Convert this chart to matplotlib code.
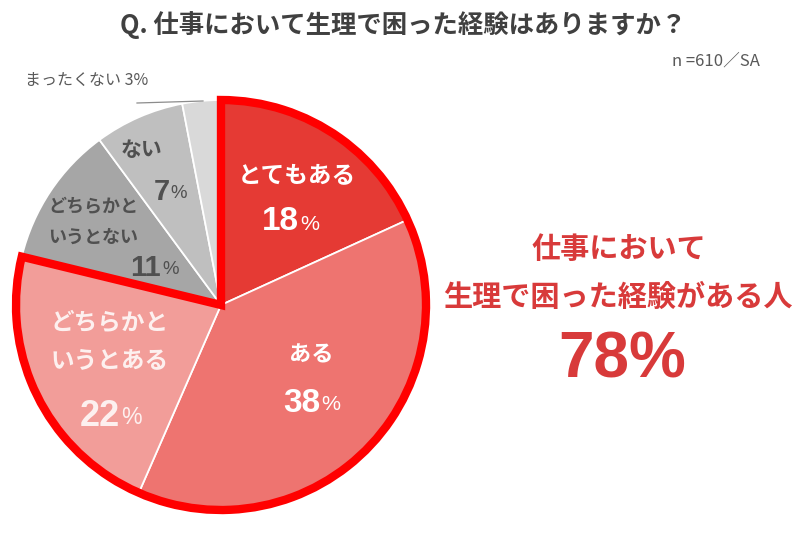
import matplotlib

matplotlib.use("Agg")
import matplotlib.pyplot as plt
from matplotlib.patches import Wedge

plt.rcParams["font.family"] = ["Noto Sans CJK JP", "DejaVu Sans"]

# data
categories = ["とてもある", "ある", "どちらかと\nいうとある", "どちらかと\nいうとない", "ない", "まったくない"]
values = [18, 38, 22, 11, 7, 3]
colors = ["#E53A34", "#EE7470", "#F29D99", "#A6A6A6", "#BFBFBF", "#D9D9D9"]
n_aware = 3  # first three slices = "ある" group
title = "Q. 仕事において生理で困った経験はありますか？"
note = "n =610／SA"
side_lines = ["仕事において", "生理で困った経験がある人"]

W, H = 800, 558
CX, CY, R = 221, 305, 205


def fy(y):
    return H - y


fig = plt.figure(figsize=(W / 100, H / 100), dpi=100)
ax = fig.add_axes([0, 0, 1, 1])

ax.pie(values, colors=colors, startangle=90, counterclock=False,
       center=(CX, fy(CY)), radius=R, frame=False,
       wedgeprops=dict(edgecolor="white", linewidth=1.3))

# thick red outline around the "ある" group
frac = sum(values[:n_aware]) / sum(values)
ax.add_patch(Wedge((CX, fy(CY)), R, 90 - frac * 360, 90, fill=False,
                   edgecolor="#FF0000", linewidth=6, joinstyle="miter", zorder=5))

ax.set_xlim(0, W)
ax.set_ylim(0, H)
ax.set_aspect("equal")
ax.axis("off")

# label name position, percent position, name size, number size, color
label_style = [
    ((297, 175), (290, 222), 17, 24, "white"),
    ((311, 355), (311, 403), 16, 24, "white"),
    ((110, 342), (110, 416), 17, 26, "#FDF0EF"),
    ((93, 222), (153, 268), 13, 21, "#505050"),
    ((142, 150), (170, 192), 15, 21, "#505050"),
]

for i, ((lx, ly), (px, pyy), fs_lab, fs_num, col) in enumerate(label_style):
    ax.text(lx, fy(ly), categories[i], ha="center", va="center", fontsize=fs_lab,
            fontweight="bold", color=col, linespacing=1.75)
    num = str(values[i])
    fs_pct = fs_num * 0.64
    w_num = len(num) * 0.556 * fs_num
    w_pct = 0.889 * fs_pct
    split = px - (w_num + w_pct) / 2 * 100 / 72 + w_num * 100 / 72
    ax.text(split, fy(pyy), num, ha="right", va="center", fontsize=fs_num,
            fontweight="bold", color=col, family=["Liberation Sans", "DejaVu Sans"])
    ax.text(split + 1, fy(pyy + 2), "%", ha="left", va="center", fontsize=fs_pct,
            color=col, family=["Liberation Sans", "DejaVu Sans"])

# outside label for the smallest slice
ax.text(25, fy(80), f"{categories[5]} {values[5]}%", ha="left", va="center",
        fontsize=11.5, color="#595959")
ax.plot([137, 203], [fy(103), fy(101)], color="#8C8C8C", lw=0.9)

# title and note
ax.text(403, fy(25), title, ha="center", va="center", fontsize=18.3,
        fontweight="bold", color="#404040")
ax.text(760, fy(61), note, ha="right", va="center", fontsize=12, color="#595959")

# right-hand summary
red = "#D83A3A"
ax.text(619, fy(249), side_lines[0], ha="center", va="center", fontsize=21,
        fontweight="bold", color=red)
ax.text(618, fy(297), side_lines[1], ha="center", va="center", fontsize=21,
        fontweight="bold", color=red)
ax.text(622, fy(360), f"{sum(values[:n_aware])}%", ha="center", va="center",
        fontsize=46, fontweight="bold", color=red,
        family=["Liberation Sans", "DejaVu Sans"])

fig.savefig("out.png", dpi=100)
